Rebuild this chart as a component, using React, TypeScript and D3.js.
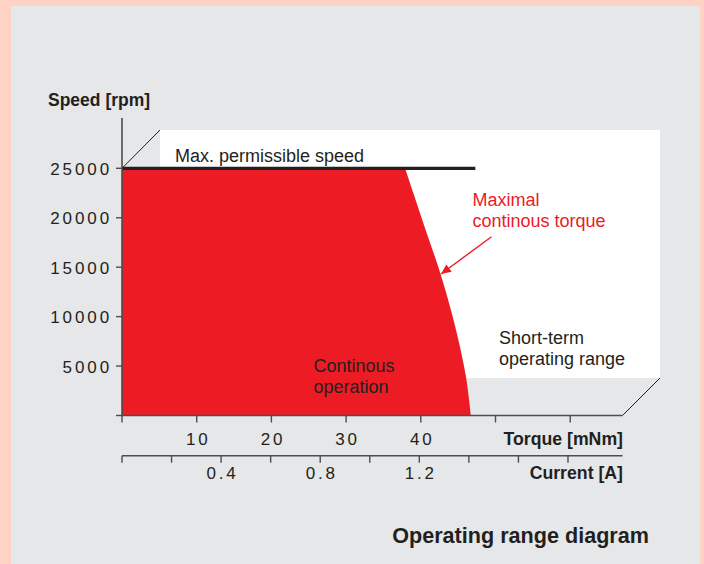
import React, { useEffect, useRef } from 'react'
import * as d3 from 'd3'

// values
const speedTicks = [0, 5000, 10000, 15000, 20000, 25000]
const torqueTicks = [0, 10, 20, 30, 40, 50, 60]
const torqueLabels = [10, 20, 30, 40]
const currentTicks = [0, 0.2, 0.4, 0.6, 0.8, 1.0, 1.2, 1.4, 1.6, 1.8]
const currentLabels = [0.4, 0.8, 1.2]
const maxSpeed = 25000
const maxSpeedLineEnd = 47.3 // torque where the black line stops
// maximal continuous torque boundary [torque mNm, speed rpm]
const curveTorque = [37.9, 39.0, 40.5, 42.6, 44.6, 46.05, 46.7]
const curveSpeed = [25000, 22500, 19100, 14400, 9000, 3900, 0]

const RED = '#ed1c24'
const INK = '#231f20'
const FONT = '"Liberation Sans", Arial, Helvetica, sans-serif'

export default function App() {
  const ref = useRef<SVGSVGElement>(null)

  useEffect(() => {
    const svg = d3.select(ref.current)
    svg.selectAll('*').remove()
    const W = 704, H = 564

    const x = d3.scaleLinear().domain([0, 67]).range([122, 622.5])
    const y = d3.scaleLinear().domain([0, 25000]).range([415.5, 168.3])
    const xc = d3.scaleLinear().domain([0, 2.02]).range([122, 622.5])

    // backgrounds
    svg.append('rect').attr('width', W).attr('height', H).attr('fill', '#ffd3c3')
    svg.append('rect').attr('x', 11).attr('y', 6).attr('width', 689).attr('height', H).attr('fill', '#e6e7e9')

    // white "short-term" plane
    svg.append('rect')
      .attr('x', 160).attr('y', 130)
      .attr('width', 500).attr('height', 248)
      .attr('fill', '#fff')
    // perspective edges
    svg.append('line')
      .attr('x1', x(0)).attr('y1', y(maxSpeed)).attr('x2', 160).attr('y2', 130)
      .attr('stroke', INK).attr('stroke-width', 1)
    svg.append('line')
      .attr('x1', x(67)).attr('y1', y(0)).attr('x2', 660).attr('y2', 378)
      .attr('stroke', INK).attr('stroke-width', 1)

    // continuous operation area
    const pts: [number, number][] = curveTorque.map((t, i) => [t, curveSpeed[i]])
    const boundary = d3.line<[number, number]>()
      .x(d => x(d[0])).y(d => y(d[1]))
      .curve(d3.curveCatmullRom.alpha(0.5))
    const start = 'M' + x(0) + ',' + y(0) + 'L' + x(0) + ',' + y(maxSpeed)
    svg.append('path')
      .attr('d', start + boundary(pts)!.replace('M', 'L') + 'Z')
      .attr('fill', RED)

    // max permissible speed line
    svg.append('line')
      .attr('x1', x(0)).attr('x2', x(maxSpeedLineEnd))
      .attr('y1', y(maxSpeed)).attr('y2', y(maxSpeed))
      .attr('stroke', INK).attr('stroke-width', 3.2)

    // y axis
    const ax = '#4d4d4f'
    svg.append('line').attr('x1', 122).attr('x2', 122).attr('y1', 118).attr('y2', y(0))
      .attr('stroke', ax).attr('stroke-width', 1.6)
    speedTicks.forEach(v => {
      svg.append('line').attr('x1', 116).attr('x2', 122).attr('y1', y(v)).attr('y2', y(v))
        .attr('stroke', ax).attr('stroke-width', 1.4)
      if (v > 0) {
        svg.append('text')
          .attr('x', 112).attr('y', y(v) + 6.5)
          .attr('text-anchor', 'end')
          .style('font-family', FONT).style('font-size', '17px')
          .style('letter-spacing', '2.9px')
          .attr('fill', INK)
          .text(v)
      }
    })

    // torque axis
    svg.append('line').attr('x1', x(0)).attr('x2', x(67)).attr('y1', y(0)).attr('y2', y(0))
      .attr('stroke', ax).attr('stroke-width', 1.6)
    torqueTicks.forEach(v => {
      svg.append('line').attr('x1', x(v)).attr('x2', x(v)).attr('y1', y(0)).attr('y2', y(0) + 7)
        .attr('stroke', ax).attr('stroke-width', 1.4)
    })
    torqueLabels.forEach(v => {
      svg.append('text')
        .attr('x', x(v) + 1.5).attr('y', 445.3)
        .attr('text-anchor', 'middle')
        .style('font-family', FONT).style('font-size', '17px')
        .style('letter-spacing', '2.8px')
        .attr('fill', INK)
        .text(v)
    })

    // current axis
    const cy = 455.7
    svg.append('line').attr('x1', xc(0)).attr('x2', xc(2.02)).attr('y1', cy).attr('y2', cy)
      .attr('stroke', ax).attr('stroke-width', 1.6)
    currentTicks.forEach(v => {
      svg.append('line').attr('x1', xc(v)).attr('x2', xc(v)).attr('y1', cy).attr('y2', cy + 7)
        .attr('stroke', ax).attr('stroke-width', 1.4)
    })
    currentLabels.forEach(v => {
      svg.append('text')
        .attr('x', xc(v) + 1.5).attr('y', 479.3)
        .attr('text-anchor', 'middle')
        .style('font-family', FONT).style('font-size', '17px')
        .style('letter-spacing', '2.8px')
        .attr('fill', INK)
        .text(d3.format('.1f')(v))
    })

    // arrow
    svg.append('defs').append('marker')
      .attr('id', 'arrowhead')
      .attr('viewBox', '0 0 10 10')
      .attr('refX', 10).attr('refY', 5)
      .attr('markerWidth', 10).attr('markerHeight', 10)
      .attr('markerUnits', 'userSpaceOnUse')
      .attr('orient', 'auto')
      .append('path').attr('d', 'M0,0.5 L10,5 L0,9.5 Z').attr('fill', RED)
    svg.append('line')
      .attr('x1', 491.5).attr('y1', 236.7).attr('x2', 441).attr('y2', 274)
      .attr('stroke', RED).attr('stroke-width', 1.4)
      .attr('marker-end', 'url(#arrowhead)')

    const label = (t: string, px: number, py: number, opts: any = {}) => {
      svg.append('text')
        .attr('x', px).attr('y', py)
        .attr('text-anchor', opts.anchor || 'start')
        .style('font-family', FONT)
        .style('font-size', (opts.size || 18) + 'px')
        .style('font-weight', opts.bold ? 'bold' : 'normal')
        .attr('fill', opts.color || INK)
        .text(t)
    }
    label('Speed [rpm]', 48, 106, { bold: true, size: 17.5 })
    label('Max. permissible speed', 175, 161.7)
    label('Maximal', 472.5, 205.7, { color: RED })
    label('continous torque', 472.5, 226.7, { color: RED })
    label('Short-term', 499, 343.5)
    label('operating range', 499, 365)
    label('Continous', 313.5, 372.3)
    label('operation', 313.5, 393.3)
    label('Torque [mNm]', 623, 445.3, { bold: true, anchor: 'end', size: 17.7 })
    label('Current [A]', 623, 479.3, { bold: true, anchor: 'end', size: 17.7 })
    label('Operating range diagram', 649, 543, { bold: true, anchor: 'end', size: 21.6 })
  }, [])

  return (
    <svg ref={ref} width={704} height={564}
      style={{ position: 'absolute', left: 0, top: 0, display: 'block' }} />
  )
}
